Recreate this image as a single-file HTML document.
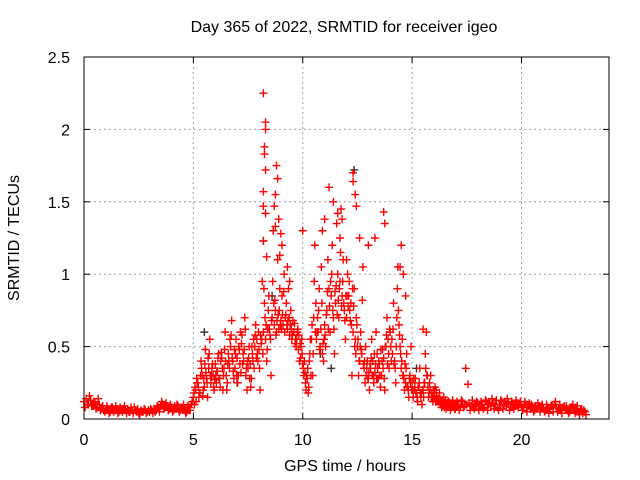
<!DOCTYPE html>
<html><head><meta charset="utf-8"><style>
html,body{margin:0;padding:0;background:#fff}
svg{display:block;font-family:"Liberation Sans",sans-serif}
</style></head><body>
<svg id="chart" width="640" height="480">
<rect width="640" height="480" fill="#fff"/>
<text x="344" y="32" font-size="16" text-anchor="middle">Day 365 of 2022, SRMTID for receiver igeo</text>
<text x="345" y="471" font-size="16" text-anchor="middle">GPS time / hours</text>
<text transform="translate(19,238) rotate(-90)" font-size="16" text-anchor="middle">SRMTID / TECUs</text>
<g id="grid"></g><g id="ticks"></g><g id="marks"></g>
<rect x="84" y="57" width="525" height="362" fill="none" stroke="#000" stroke-width="1"/>
</svg>
<script>
const xTicks=[0,5,10,15,20];
const yTicks=[0,0.5,1,1.5,2,2.5];
const yTickLabels=["0","0.5","1","1.5","2","2.5"];
const step=0.1;
const seriesA=[0.12,0.14,0.10,0.13,0.09,0.11,0.08,0.10,0.07,0.06,
0.06,0.07,0.05,0.08,0.06,0.07,0.05,0.06,0.07,0.06,
0.07,0.05,0.06,0.08,0.05,0.04,0.06,0.05,0.06,0.05,
0.05,0.06,0.07,0.06,0.08,0.09,0.10,0.08,0.09,0.07,
0.08,0.06,0.07,0.09,0.06,0.07,0.06,0.05,0.08,0.10,
0.15,0.20,0.25,0.18,0.30,0.22,0.28,0.35,0.25,0.30,
0.38,0.33,0.28,0.42,0.35,0.30,0.45,0.50,0.40,0.35,
0.42,0.48,0.52,0.40,0.30,0.35,0.38,0.45,0.50,0.55,
0.48,0.52,0.60,0.55,0.62,0.58,0.70,0.65,0.60,0.62,
0.68,0.65,0.70,0.62,0.58,0.55,0.60,0.50,0.48,0.42,
0.38,0.32,0.28,0.40,0.55,0.70,0.80,0.60,0.50,0.45,
0.65,0.75,0.90,0.85,0.70,0.80,1.00,0.95,0.85,0.75,
0.70,0.85,0.80,0.60,0.55,0.50,0.40,0.45,0.35,0.30,
0.28,0.35,0.40,0.32,0.45,0.38,0.30,0.42,0.50,0.55,
0.60,0.45,0.40,0.70,0.65,0.35,0.30,0.25,0.22,0.30,
0.25,0.20,0.18,0.22,0.15,0.20,0.45,0.30,0.25,0.18,
0.15,0.20,0.12,0.10,0.12,0.10,0.09,0.11,0.08,0.10,
0.09,0.10,0.08,0.12,0.09,0.10,0.11,0.09,0.08,0.10,
0.11,0.09,0.10,0.08,0.12,0.10,0.09,0.11,0.10,0.08,
0.10,0.12,0.09,0.10,0.11,0.08,0.10,0.09,0.11,0.10,
0.09,0.08,0.10,0.09,0.07,0.08,0.06,0.07,0.09,0.08,
0.07,0.06,0.08,0.07,0.09,0.10,0.08,0.07,0.06,0.08,
0.07,0.06,0.05,0.08,0.06,0.07,0.05,0.06,0.04,0.05];
const seriesB=[0.08,0.10,0.16,0.09,0.12,0.07,0.14,0.06,0.09,0.05,
0.09,0.04,0.08,0.05,0.09,0.04,0.08,0.05,0.09,0.04,
0.05,0.08,0.04,0.06,0.07,0.03,0.05,0.07,0.04,0.06,
0.07,0.04,0.05,0.09,0.05,0.12,0.07,0.11,0.06,0.10,
0.05,0.09,0.10,0.05,0.08,0.10,0.04,0.09,0.06,0.12,
0.10,0.28,0.15,0.40,0.20,0.48,0.15,0.55,0.35,0.20,
0.25,0.45,0.40,0.20,0.60,0.25,0.35,0.68,0.28,0.55,
0.30,0.60,0.38,0.70,0.20,0.50,0.28,0.55,0.65,0.40,
0.20,0.95,0.80,0.40,0.85,0.30,1.30,0.75,1.10,0.90,
0.85,1.00,0.80,0.90,0.75,0.68,0.52,0.60,0.40,0.55,
0.30,0.20,0.18,0.55,0.30,1.20,0.60,0.90,1.05,0.40,
0.50,1.10,0.60,1.20,0.45,1.35,0.70,1.45,1.10,0.55,
1.00,0.75,0.30,0.90,0.70,0.30,0.60,1.05,0.25,0.40,
0.20,0.55,0.25,0.60,0.28,0.22,0.48,0.20,0.70,0.35,
0.40,0.80,0.25,1.05,0.50,0.55,0.20,0.45,0.15,0.50,
0.15,0.28,0.12,0.35,0.10,0.25,0.60,0.15,0.30,0.12,
0.22,0.13,0.18,0.08,0.15,0.07,0.12,0.06,0.13,0.07,
0.12,0.06,0.13,0.08,0.35,0.24,0.06,0.13,0.07,0.12,
0.06,0.12,0.07,0.13,0.06,0.11,0.14,0.07,0.13,0.06,
0.13,0.07,0.12,0.14,0.06,0.12,0.07,0.13,0.08,0.12,
0.06,0.12,0.05,0.11,0.10,0.05,0.09,0.11,0.05,0.10,
0.05,0.10,0.04,0.09,0.05,0.12,0.05,0.10,0.04,0.09,
0.09,0.04,0.08,0.10,0.04,0.09,0.03,0.07,0.06,0.03];
const midStart=5.0;
const seriesC=[0.18,0.12,0.22,0.30,0.16,0.38,0.25,0.45,0.30,0.22,
0.30,0.42,0.22,0.35,0.48,0.20,0.40,0.58,0.33,0.45,
0.25,0.38,0.58,0.48,0.35,0.42,0.22,0.40,0.58,0.45,
0.35,0.55,0.90,0.65,0.75,0.55,0.95,0.82,0.68,0.75,
0.62,0.88,0.72,0.68,0.65,0.58,0.66,0.55,0.58,0.50,
0.35,0.25,0.35,0.45,0.65,0.95,0.55,0.75,0.62,0.52,
0.58,0.88,0.78,1.00,0.62,0.92,0.82,1.15,0.95,0.68,
0.85,0.95,0.65,0.78,0.45,0.55,0.50,0.82,0.40,0.35,
0.32,0.42,0.30,0.38,0.35,0.30,0.40,0.28,0.58,0.45,
0.50,0.62,0.35,0.90,0.58,0.40,0.28,0.35,0.20,0.25,
0.20,0.22,0.15,0.25,0.18,0.15,0.35,0.22,0.20,0.15,
0.18,0.16,0.14,0.12,0.10,0.13,0.10,0.09,0.11,0.09];
const seriesD=[0.22,0.25,0.18,0.35,0.28,0.32,0.42,0.30,0.38,0.27,
0.33,0.28,0.46,0.30,0.40,0.38,0.55,0.42,0.48,0.30,
0.50,0.32,0.45,0.62,0.40,0.28,0.50,0.35,0.42,0.60,
0.58,0.45,0.70,0.48,0.62,0.68,0.80,0.58,0.72,0.65,
0.72,0.60,0.65,0.70,0.62,0.60,0.55,0.62,0.52,0.45,
0.40,0.30,0.22,0.30,0.45,0.60,0.70,0.48,0.80,0.55,
0.72,0.62,0.95,0.75,0.88,0.72,0.90,0.78,0.80,0.85,
0.78,0.68,0.90,0.50,0.65,0.40,0.48,0.38,0.50,0.28,
0.38,0.30,0.45,0.28,0.40,0.48,0.35,0.50,0.38,0.62,
0.55,0.38,0.50,0.75,0.45,0.30,0.38,0.22,0.28,0.20,
0.28,0.18,0.22,0.18,0.20,0.25,0.30,0.18,0.15,0.20,
0.12,0.14,0.10,0.13,0.08,0.11,0.12,0.08,0.10,0.07];
const outlierT=[8.2,8.3,8.3,8.25,8.25,8.3,8.2,8.2,8.3,8.2,8.35,8.8,8.85,8.75,8.7,8.9,8.75,9.0,9.05,8.95,11.2,11.4,11.6,11.8,12.3,12.3,12.4,12.45,11.0,10.9,12.6,13.0,13.3,13.7,13.75,14.5,14.45,14.6,14.7,15.5,12.0,11.7,10.0,9.3,9.4];
const outlierV=[2.25,2.05,2.0,1.88,1.83,1.72,1.57,1.47,1.42,1.23,1.12,1.75,1.66,1.55,1.47,1.38,1.33,1.28,1.2,1.13,1.6,1.5,1.42,1.38,1.7,1.64,1.55,1.47,1.38,1.3,1.25,1.2,1.25,1.43,1.35,1.2,1.05,1.0,0.85,0.62,1.1,1.25,1.3,1.05,0.95];
const grayT=[5.5,7.0,8.2,8.6,10.8,11.3,12.35,13.4,15.2,16.0];
const grayV=[0.6,0.25,1.23,0.85,0.45,0.35,1.72,0.28,0.35,0.2];

const X0=84,X1=609,Y0=419,Y1=57,XMAX=24,YMAX=2.5;
function xs(v){return X0+(X1-X0)*v/XMAX;}
function ys(v){return Y0-(Y0-Y1)*v/YMAX;}
const NS="http://www.w3.org/2000/svg";
function mk(tag,attrs,parent){const e=document.createElementNS(NS,tag);for(const k in attrs)e.setAttribute(k,attrs[k]);parent.appendChild(e);return e;}
const grid=document.getElementById('grid'),ticks=document.getElementById('ticks'),marks=document.getElementById('marks');
xTicks.forEach(t=>{
  const x=xs(t);
  if(t>0){const g=mk('line',{x1:x,x2:x,y1:Y1,y2:Y0,stroke:'#a0a0a0','stroke-dasharray':'2,3'},grid);
  
  }
  mk('line',{x1:x,x2:x,y1:Y0,y2:Y0-6,stroke:'#000'},ticks);
  mk('line',{x1:x,x2:x,y1:Y1,y2:Y1+6,stroke:'#000'},ticks);
  const l=mk('text',{x:x,y:445,'font-size':16,'text-anchor':'middle'},ticks);
  l.textContent=String(t);
  
  
});
yTicks.forEach((t,i)=>{
  const y=ys(t);
  if(t>0&&t<YMAX){const g=mk('line',{x1:X0,x2:X1,y1:y,y2:y,stroke:'#a0a0a0','stroke-dasharray':'2,3'},grid);
  
  }
  mk('line',{x1:X0,x2:X0+6,y1:y,y2:y,stroke:'#000'},ticks);
  mk('line',{x1:X1,x2:X1-6,y1:y,y2:y,stroke:'#000'},ticks);
  const l=mk('text',{x:70,y:y+6,'font-size':16,'text-anchor':'end'},ticks);
  l.textContent=yTickLabels[i];
  
  
});
function plus(t,v,color){
  const x=xs(t),y=ys(v);
  const p=mk('path',{d:`M${x-4} ${y}H${x+4}M${x} ${y-4}V${y+4}`,stroke:color,'stroke-width':1.4,fill:'none'},marks);
  
  
}
grayT.forEach((t,i)=>plus(t,grayV[i],'#333'));
seriesA.forEach((v,i)=>plus(i*step,v,'#f00'));
seriesB.forEach((v,i)=>plus(i*step+0.05,v,'#f00'));
seriesC.forEach((v,i)=>plus(midStart+i*step+0.025,v,'#f00'));
seriesD.forEach((v,i)=>plus(midStart+i*step+0.075,v,'#f00'));
outlierT.forEach((t,i)=>plus(t,outlierV[i],'#f00'));
</script>
</body></html>
